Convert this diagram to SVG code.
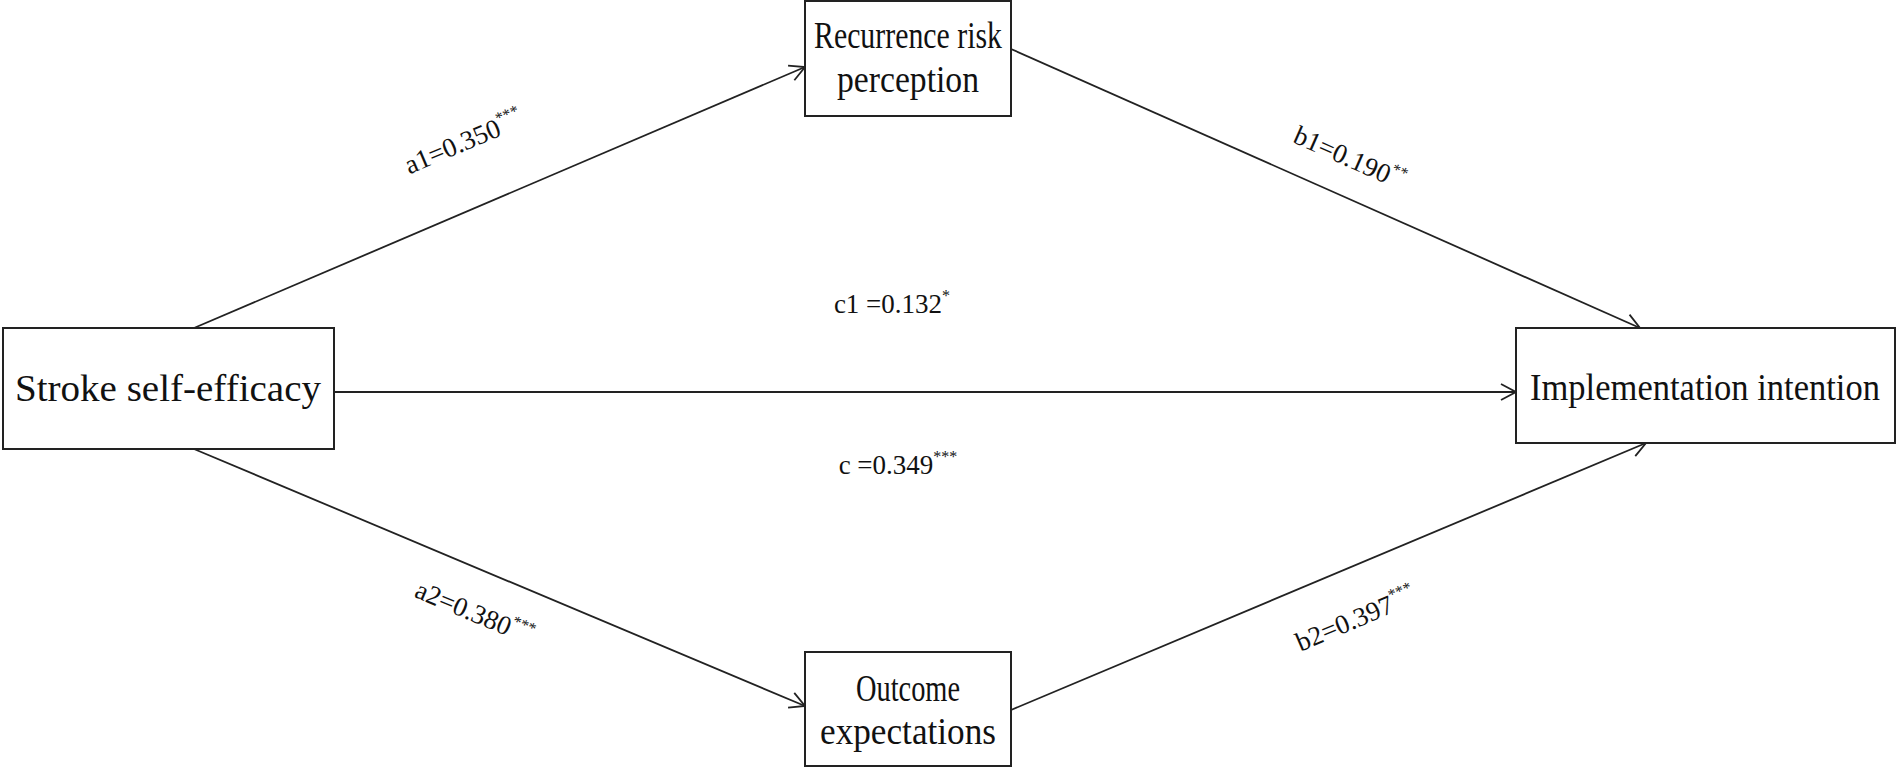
<svg xmlns="http://www.w3.org/2000/svg" width="1902" height="775" viewBox="0 0 1902 775">
<style>
.box{fill:#fff;stroke:#222;stroke-width:2}
.t{font-family:"Liberation Serif",serif;font-size:38px;fill:#111;text-anchor:middle}
.l{font-family:"Liberation Serif",serif;font-size:27px;fill:#111;text-anchor:middle}
.e{stroke:#222;stroke-width:1.8;fill:none;marker-end:url(#a)}
</style>
<defs><marker id="a" markerWidth="18" markerHeight="18" refX="16" refY="9" orient="auto" markerUnits="userSpaceOnUse"><path d="M1,1 L16,9 L1,17" fill="none" stroke="#222" stroke-width="1.8"/></marker></defs>
<rect width="1902" height="775" fill="#fff"/>
<g id="connectors">
<line class="e" x1="194" y1="328" x2="805" y2="67"/>
<line class="e" x1="1011" y1="49" x2="1640" y2="328"/>
<line class="e" x1="334" y1="392" x2="1516" y2="392"/>
<line class="e" x1="194" y1="449" x2="805" y2="706"/>
<line class="e" x1="1011" y1="710" x2="1646" y2="443"/>
<text class="l" transform="translate(467,150) rotate(-23)">a1=0.350<tspan dy="-12" font-size="16">***</tspan></text>
<text class="l" transform="translate(1346,166) rotate(24)">b1=0.190<tspan dy="-12" font-size="16">**</tspan></text>
<text class="l" x="892" y="313">c1 =0.132<tspan dy="-12" font-size="16">*</tspan></text>
<text class="l" x="898" y="474">c =0.349<tspan dy="-12" font-size="16">***</tspan></text>
<text class="l" transform="translate(471,621) rotate(23)">a2=0.380<tspan dy="-12" font-size="16">***</tspan></text>
<text class="l" transform="translate(1359,627) rotate(-23)">b2=0.397<tspan dy="-12" font-size="16">***</tspan></text>
</g>
<g id="n1"><rect class="box" x="3" y="328" width="331" height="121"/><text class="t" x="168" y="401" textLength="306" lengthAdjust="spacingAndGlyphs">Stroke self-efficacy</text></g>
<g id="n2"><rect class="box" x="805" y="1" width="206" height="115"/><text class="t" x="908" y="48" textLength="188" lengthAdjust="spacingAndGlyphs">Recurrence risk</text><text class="t" x="908" y="92" textLength="142" lengthAdjust="spacingAndGlyphs">perception</text></g>
<g id="n3"><rect class="box" x="1516" y="328" width="379" height="115"/><text class="t" x="1705" y="400" textLength="350" lengthAdjust="spacingAndGlyphs">Implementation intention</text></g>
<g id="n4"><rect class="box" x="805" y="652" width="206" height="114"/><text class="t" x="908" y="701" textLength="104" lengthAdjust="spacingAndGlyphs">Outcome</text><text class="t" x="908" y="744" textLength="176" lengthAdjust="spacingAndGlyphs">expectations</text></g>
</svg>
